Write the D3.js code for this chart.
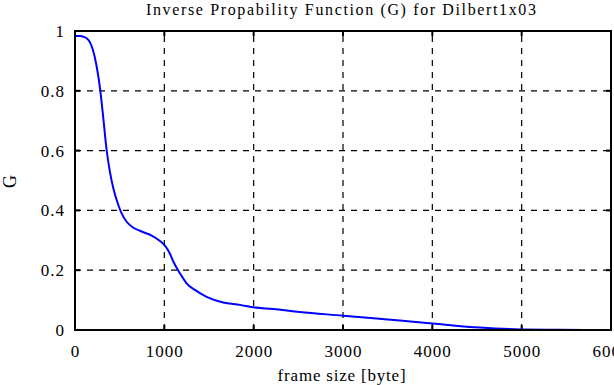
<!DOCTYPE html>
<html>
<head>
<meta charset="utf-8">
<script src="https://cdn.jsdelivr.net/npm/d3@7"></script>
<style>
  body { margin: 0; background: #fff; }
  text { font-family: "Liberation Serif", "DejaVu Serif", serif; fill: #000; }
</style>
</head>
<body>
<script>
// frame size in bytes and the G value
var frameSize = [0, 60, 93, 130, 168, 224, 280, 317, 354, 391, 429, 485, 522, 578, 653, 727, 765, 858, 951, 1007,
  1063, 1100, 1174, 1249, 1342, 1473, 1659, 1846, 1995, 2219, 2517, 3002, 3500, 3998, 4530, 4996, 5400, 5705];
var gValue = [0.983, 0.983, 0.981, 0.976, 0.962, 0.909, 0.808, 0.708, 0.602, 0.529, 0.474, 0.418, 0.390, 0.362, 0.342, 0.332, 0.327, 0.316, 0.298, 0.282,
  0.255, 0.229, 0.190, 0.156, 0.134, 0.111, 0.092, 0.084, 0.076, 0.070, 0.060, 0.048, 0.035, 0.022, 0.008, 0.002, 0.001, 0.0];

var xTicks = [0, 1000, 2000, 3000, 4000, 5000, 6000];
var yTicks = [0, 0.2, 0.4, 0.6, 0.8, 1];

var titleText = "Inverse Propability Function (G) for Dilbert1x03";
var xLabel = "frame size [byte]";
var yLabel = "G";

var width = 614, height = 385;
var margin = {top: 31, right: 3, bottom: 55, left: 75};

var svg = d3.select("body").append("svg")
  .attr("width", width)
  .attr("height", height);

var x = d3.scaleLinear().domain([0, 6000]).range([margin.left, width - margin.right]);
var y = d3.scaleLinear().domain([0, 1]).range([height - margin.bottom, margin.top]);

// dashed grid
svg.selectAll(".vgrid")
  .data(xTicks.slice(1, -1))
  .enter().append("line")
  .attr("x1", function(d){ return x(d); })
  .attr("x2", function(d){ return x(d); })
  .attr("y1", y(0)).attr("y2", y(1))
  .attr("stroke", "#000").attr("stroke-width", 1.2)
  .attr("stroke-dasharray", "6,6");

svg.selectAll(".hgrid")
  .data(yTicks.slice(1, -1))
  .enter().append("line")
  .attr("y1", function(d){ return y(d); })
  .attr("y2", function(d){ return y(d); })
  .attr("x1", x(0)).attr("x2", x(6000))
  .attr("stroke", "#000").attr("stroke-width", 1.2)
  .attr("stroke-dasharray", "6,6");

// inward tick marks on all sides
var tl = 5;
xTicks.forEach(function(t){
  svg.append("line").attr("x1", x(t)).attr("x2", x(t)).attr("y1", y(0)).attr("y2", y(0) - tl)
    .attr("stroke", "#000").attr("stroke-width", 2);
  svg.append("line").attr("x1", x(t)).attr("x2", x(t)).attr("y1", y(1)).attr("y2", y(1) + tl)
    .attr("stroke", "#000").attr("stroke-width", 2);
});
yTicks.forEach(function(t){
  svg.append("line").attr("y1", y(t)).attr("y2", y(t)).attr("x1", x(0)).attr("x2", x(0) + tl)
    .attr("stroke", "#000").attr("stroke-width", 2);
  svg.append("line").attr("y1", y(t)).attr("y2", y(t)).attr("x1", x(6000)).attr("x2", x(6000) - tl)
    .attr("stroke", "#000").attr("stroke-width", 2);
});

// the curve
var line = d3.line()
  .x(function(d, i){ return x(frameSize[i]); })
  .y(function(d){ return y(d); })
  .curve(d3.curveMonotoneX);

svg.append("path")
  .datum(gValue)
  .attr("fill", "none")
  .attr("stroke", "#0000ff")
  .attr("stroke-width", 2)
  .attr("d", line);

// frame
svg.append("rect")
  .attr("x", x(0)).attr("y", y(1))
  .attr("width", x(6000) - x(0)).attr("height", y(0) - y(1))
  .attr("fill", "none").attr("stroke", "#000").attr("stroke-width", 2);

// tick labels (the original font runs wide)
svg.selectAll(".xlab")
  .data(xTicks)
  .enter().append("text")
  .attr("x", function(d){ return x(d) + 0.5; })
  .attr("y", 357)
  .attr("text-anchor", "middle")
  .style("font-size", "17px")
  .style("letter-spacing", "1px")
  .text(function(d){ return d; });

svg.selectAll(".ylab")
  .data(yTicks)
  .enter().append("text")
  .attr("x", 65)
  .attr("y", function(d){ return y(d) + 6; })
  .attr("text-anchor", "end")
  .style("font-size", "17px")
  .style("letter-spacing", "1px")
  .text(function(d){ return d; });

// titles
svg.append("text")
  .attr("x", 146).attr("y", 15)
  .attr("textLength", 390)
  .attr("lengthAdjust", "spacing")
  .style("font-size", "16px")
  .text(titleText);

svg.append("text")
  .attr("x", 342).attr("y", 381)
  .attr("text-anchor", "middle")
  .style("font-size", "17px")
  .style("letter-spacing", "0.8px")
  .text(xLabel);

svg.append("text")
  .attr("transform", "translate(16," + (y(0.5) + 1) + ") rotate(-90)")
  .attr("text-anchor", "middle")
  .style("font-size", "18px")
  .text(yLabel);
</script>
</body>
</html>
